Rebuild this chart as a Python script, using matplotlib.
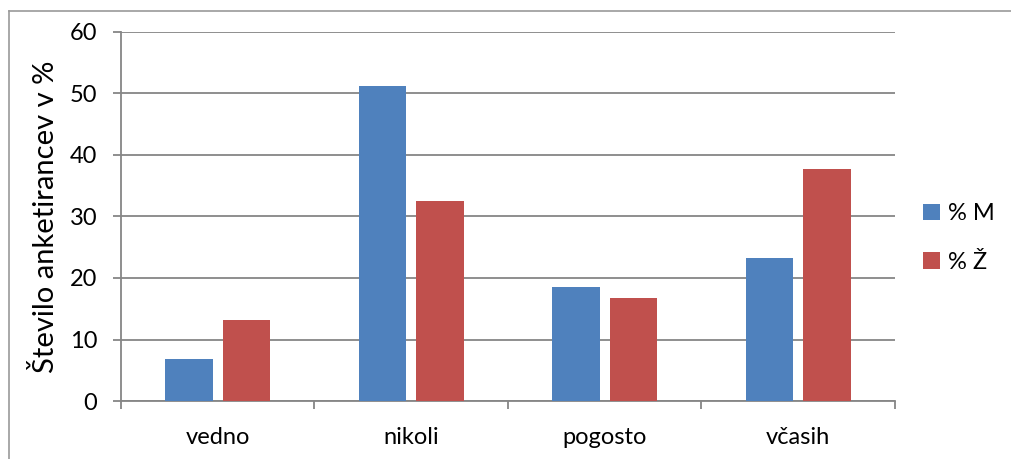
import matplotlib
matplotlib.use("Agg")
import matplotlib.pyplot as plt
import numpy as np
from matplotlib.lines import Line2D
from matplotlib.patches import Patch

categories = ["vedno", "nikoli", "pogosto", "včasih"]
men = [6.9, 51.2, 18.6, 23.3]
women = [13.2, 32.5, 16.7, 37.7]
series_labels = ["% M", "% Ž"]
y_ticks = [0, 10, 20, 30, 40, 50, 60]

plt.rcParams["font.family"] = ["Lato", "DejaVu Sans"]

blue = "#4F81BD"
red = "#C0504D"
grid_c = "#868686"

fig = plt.figure(figsize=(10.12, 4.59), dpi=100)
ax = fig.add_axes([121 / 1012, 1 - 401 / 459, (895 - 121) / 1012, (401 - 32) / 459])

x = np.arange(len(categories))
w = 0.245
off = 0.149
ax.bar(x - off, men, width=w, color=blue, zorder=3)
ax.bar(x + off, women, width=w, color=red, zorder=3)

ax.set_xlim(-0.5, len(categories) - 0.5)
ax.set_ylim(0, 60)
ax.set_yticks(y_ticks)
ax.yaxis.grid(True, color=grid_c, linewidth=1.3, zorder=0)
ax.set_axisbelow(True)

ax.set_xticks(x)
ax.set_xticklabels(categories, fontsize=17)
ax.set_xticks(np.arange(-0.5, len(categories)), minor=True)
ax.tick_params(axis="x", which="major", length=0, pad=19)
ax.tick_params(axis="x", which="minor", length=6, color=grid_c, width=1.3, direction="out")
ax.tick_params(axis="y", length=6, color=grid_c, width=1.3, pad=11, labelsize=17)

for s in ["top", "right"]:
    ax.spines[s].set_visible(False)
for s in ["left", "bottom"]:
    ax.spines[s].set_color(grid_c)
    ax.spines[s].set_linewidth(1.3)

ax.set_ylabel("Število anketirancev v %", fontsize=21, labelpad=8)

handles = [Patch(facecolor=blue, edgecolor="none"), Patch(facecolor=red, edgecolor="none")]
fig.legend(handles, series_labels, loc="center left", bbox_to_anchor=(902 / 1012, 1 - 238 / 459),
           frameon=False, fontsize=17, handlelength=0.7, handleheight=0.7,
           handletextpad=0.35, labelspacing=1.15)

# outer chart frame
fig.add_artist(Line2D([9 / 1012, 1.0], [1 - 11 / 459, 1 - 11 / 459], color="#9A9A9A", lw=1.2,
                      transform=fig.transFigure))
fig.add_artist(Line2D([9 / 1012, 9 / 1012], [0, 1 - 11 / 459], color="#9A9A9A", lw=1.2,
                      transform=fig.transFigure))

fig.savefig("out.png", dpi=100)
